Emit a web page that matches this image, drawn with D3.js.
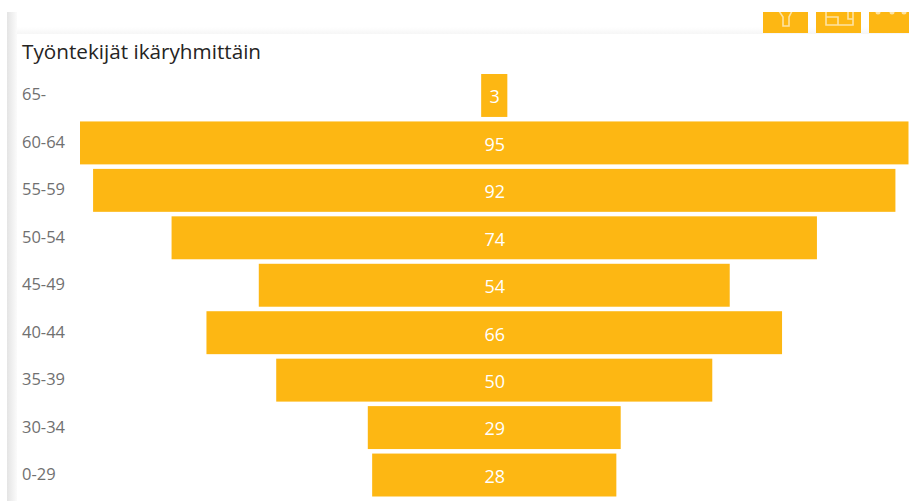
<!DOCTYPE html>
<html>
<head>
<meta charset="utf-8">
<script src="https://cdn.jsdelivr.net/npm/d3@7"></script>
<style>
  html, body { margin: 0; padding: 0; background: #fff; overflow: hidden; }
  svg { display: block; font-family: "Open Sans", "Noto Sans", sans-serif; }
</style>
</head>
<body>
<div id="chart"></div>
<script>
const ageGroups = ['65-', '60-64', '55-59', '50-54', '45-49', '40-44', '35-39', '30-34', '0-29'];
const employees = [3, 95, 92, 74, 54, 66, 50, 29, 28];
const chartTitle = 'Työntekijät ikäryhmittäin';

const width = 909;
const height = 501;
const orange = '#fdb713';

const svg = d3.select('#chart')
  .append('svg')
  .attr('width', width)
  .attr('height', height);

const defs = svg.append('defs');
const leftShade = defs.append('linearGradient').attr('id', 'left-shade');
leftShade.append('stop').attr('offset', '0%').attr('stop-color', '#e4e4e4');
leftShade.append('stop').attr('offset', '100%').attr('stop-color', '#fbfbfb');
const topShade = defs.append('linearGradient').attr('id', 'top-shade')
  .attr('x1', 0).attr('x2', 0).attr('y1', 0).attr('y2', 1);
topShade.append('stop').attr('offset', '0%').attr('stop-color', '#ffffff');
topShade.append('stop').attr('offset', '100%').attr('stop-color', '#f6f6f6');
defs.append('clipPath').attr('id', 'button-clip')
  .append('rect').attr('x', 0).attr('y', 12).attr('width', width).attr('height', 21);

// card edges around the visual
svg.append('rect').attr('x', 7).attr('y', 12).attr('width', 10).attr('height', height - 12).attr('fill', 'url(#left-shade)');
svg.append('rect').attr('x', 17).attr('y', 27).attr('width', width - 17).attr('height', 7).attr('fill', 'url(#top-shade)');

// toolbar buttons, cut off at the top
const buttons = svg.append('g').attr('clip-path', 'url(#button-clip)');
[[763, 45], [816, 45], [869, 40]].forEach(([x, w]) => {
  buttons.append('rect')
    .attr('x', x).attr('y', 12).attr('width', w).attr('height', 21)
    .attr('fill', orange);
});
const iconStroke = '#fde3a4';
buttons.append('path')
  .attr('d', 'M779,11 L783,17 L783,26 L789,26 L789,17 L792,11')
  .attr('fill', 'none').attr('stroke', iconStroke).attr('stroke-width', 1.6);
buttons.append('path')
  .attr('d', 'M826,11 V25 H853 V11 M826,17 H838 V25 M848,11 V19 H853')
  .attr('fill', 'none').attr('stroke', iconStroke).attr('stroke-width', 1.6);
[878, 892, 904].forEach(cx => {
  buttons.append('circle').attr('cx', cx).attr('cy', 12).attr('r', 2.5).attr('fill', iconStroke);
});

svg.append('text')
  .attr('x', 22)
  .attr('y', 59)
  .attr('font-size', 20.7)
  .attr('fill', '#252423')
  .text(chartTitle);

const y = d3.scaleBand()
  .domain(ageGroups)
  .range([74, 496.5])
  .paddingInner(0.095);

// bars are centred, so the scale runs on half widths either side of the axis
const maxValue = d3.max(employees);
const x = d3.scaleLinear()
  .domain([-maxValue, maxValue])
  .range([80, 908.5]);

const rows = svg.selectAll('g.row')
  .data(ageGroups.map((group, i) => ({ group, value: employees[i] })))
  .join('g')
  .attr('class', 'row');

rows.append('rect')
  .attr('x', d => x(-d.value))
  .attr('y', d => y(d.group))
  .attr('width', d => x(d.value) - x(-d.value))
  .attr('height', y.bandwidth())
  .attr('fill', orange);

rows.append('text')
  .attr('x', x(0) + 0.5)
  .attr('y', d => y(d.group) + y.bandwidth() / 2 + 1)
  .attr('dy', '0.38em')
  .attr('text-anchor', 'middle')
  .attr('font-size', 18)
  .attr('fill', '#ffffff')
  .text(d => d.value);

rows.append('text')
  .attr('x', 22)
  .attr('y', d => y(d.group) + y.bandwidth() / 2)
  .attr('dy', '0.3em')
  .attr('font-size', 16.5)
  .attr('fill', '#707070')
  .text(d => d.group);
</script>
</body>
</html>
